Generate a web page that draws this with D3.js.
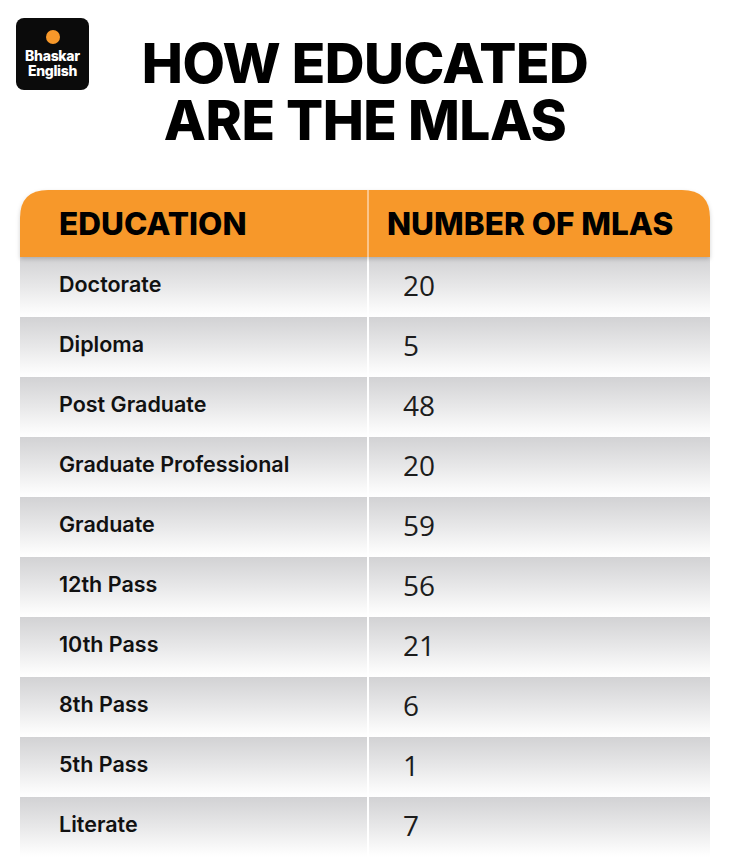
<!DOCTYPE html>
<html>
<head>
<meta charset="utf-8">
<script src="https://cdn.jsdelivr.net/npm/d3@7"></script>
<style>
  body { margin: 0; background: #fff; }
  svg { display: block; }
</style>
</head>
<body>
<div id="my_dataviz"><svg></svg></div>
<script>
var education = ["Doctorate", "Diploma", "Post Graduate", "Graduate Professional", "Graduate",
    "12th Pass", "10th Pass", "8th Pass", "5th Pass", "Literate"];
var mlaCount = [20, 5, 48, 20, 59, 56, 21, 6, 1, 7];
var headers = ["EDUCATION", "NUMBER OF MLAS"];
var titleLines = ["HOW EDUCATED", "ARE THE MLAS"];
var logoLines = ["Bhaskar", "English"];

var width = 730, height = 864;
var table = {left: 20, right: 710, top: 190, headH: 67, split: 368};

var svg = d3.select("#my_dataviz").select("svg")
    .attr("width", width)
    .attr("height", height);

var defs = svg.append("defs");
var grad = defs.append("linearGradient")
    .attr("id", "rowGrad")
    .attr("x1", 0).attr("y1", 0).attr("x2", 0).attr("y2", 1);
grad.append("stop").attr("offset", "0%").attr("stop-color", "#d2d2d4");
grad.append("stop").attr("offset", "50%").attr("stop-color", "#e8e8e9");
grad.append("stop").attr("offset", "85%").attr("stop-color", "#f9f9f9");
grad.append("stop").attr("offset", "100%").attr("stop-color", "#ffffff");

var shadow = defs.append("filter").attr("id", "headShadow")
    .attr("x", -0.05).attr("y", -0.2).attr("width", 1.1).attr("height", 1.5);
shadow.append("feDropShadow").attr("dx", 0).attr("dy", 2)
    .attr("stdDeviation", 2).attr("flood-color", "#000").attr("flood-opacity", 0.18);

/* logo */
var logo = svg.append("g").attr("transform", "translate(16,18)");
logo.append("rect")
    .attr("width", 73).attr("height", 72)
    .attr("rx", 8)
    .attr("fill", "#0b0b0b");
logo.append("circle")
    .attr("cx", 37).attr("cy", 19).attr("r", 7)
    .attr("fill", "#f7982a");
logo.selectAll("text.logo")
    .data(logoLines)
    .enter()
    .append("text")
    .attr("class", "logo")
    .attr("x", 36.5)
    .attr("y", function (d, i) { return 43 + i * 15; })
    .attr("text-anchor", "middle")
    .attr("fill", "#fff")
    .attr("font-family", "Inter")
    .attr("font-weight", 800)
    .attr("font-size", 14)
    .attr("letter-spacing", -0.3)
    .text(function (d) { return d; });

/* title */
svg.selectAll("text.title")
    .data(titleLines)
    .enter()
    .append("text")
    .attr("class", "title")
    .attr("x", 365)
    .attr("y", function (d, i) { return 83 + i * 57; })
    .attr("text-anchor", "middle")
    .attr("fill", "#000")
    .attr("font-family", "Inter")
    .attr("font-weight", 800)
    .attr("font-size", 55)
    .attr("letter-spacing", -0.5)
    .text(function (d) { return d; });

/* rows */
var yRow = d3.scaleBand()
    .domain(education)
    .range([table.top + table.headH, table.top + table.headH + education.length * 60])
    .paddingInner(0);

var rows = svg.append("g").selectAll("g")
    .data(education)
    .enter()
    .append("g")
    .attr("transform", function (d) { return "translate(0," + yRow(d) + ")"; });

rows.append("rect")
    .attr("x", table.left)
    .attr("width", table.right - table.left)
    .attr("height", yRow.bandwidth())
    .attr("fill", "url(#rowGrad)");

rows.append("text")
    .attr("x", 59)
    .attr("y", yRow.bandwidth() / 2 - 3)
    .attr("dominant-baseline", "central")
    .attr("fill", "#111")
    .attr("font-family", "Inter")
    .attr("font-weight", 600)
    .attr("font-size", 21.5)
    .text(function (d) { return d; });

rows.append("text")
    .attr("x", 403)
    .attr("y", yRow.bandwidth() / 2 - 2)
    .attr("dominant-baseline", "central")
    .attr("fill", "#1c1c1c")
    .attr("font-family", "Open Sans")
    .attr("font-size", 28)
    .text(function (d, i) { return mlaCount[i]; });

/* column divider */
svg.append("line")
    .attr("x1", table.split).attr("x2", table.split)
    .attr("y1", table.top)
    .attr("y2", yRow(education[education.length - 1]) + yRow.bandwidth())
    .attr("stroke", "#fff")
    .attr("stroke-width", 2);

/* header */
var r = 28;
var hx0 = table.left, hx1 = table.right, hy0 = table.top, hy1 = table.top + table.headH;
var headPath = "M" + hx0 + "," + hy1 +
    "V" + (hy0 + r) +
    "Q" + hx0 + "," + hy0 + " " + (hx0 + r) + "," + hy0 +
    "H" + (hx1 - r) +
    "Q" + hx1 + "," + hy0 + " " + hx1 + "," + (hy0 + r) +
    "V" + hy1 + "Z";
svg.append("path")
    .attr("d", headPath)
    .attr("fill", "#f7982a")
    .attr("filter", "url(#headShadow)");

svg.append("line")
    .attr("x1", table.split).attr("x2", table.split)
    .attr("y1", hy0).attr("y2", hy1)
    .attr("stroke", "#fbc58a")
    .attr("stroke-width", 2);

svg.selectAll("text.head")
    .data(headers)
    .enter()
    .append("text")
    .attr("class", "head")
    .attr("x", function (d, i) { return i == 0 ? 59 : 387; })
    .attr("y", 235)
    .attr("fill", "#000")
    .attr("font-family", "Inter")
    .attr("font-weight", 800)
    .attr("font-size", 31.5)
    .text(function (d) { return d; });
</script>
</body>
</html>
